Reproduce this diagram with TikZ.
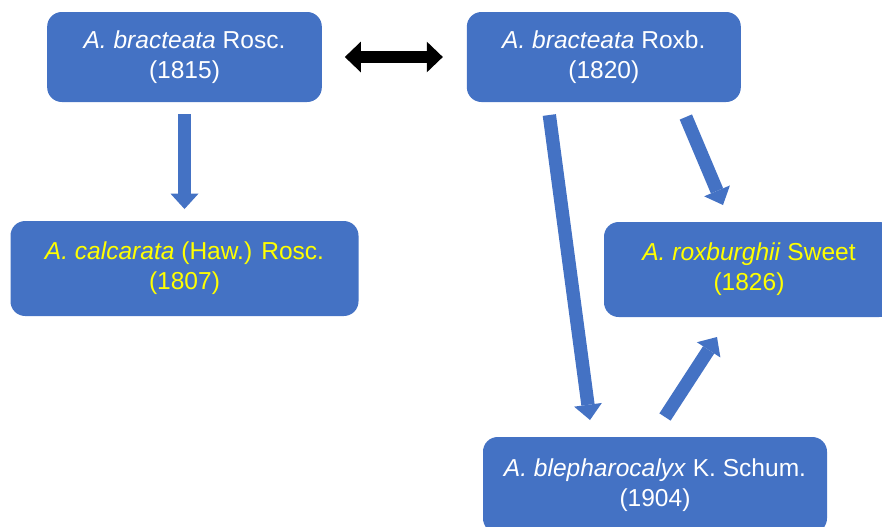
\documentclass[tikz,border=0pt]{standalone}
\usepackage{fontspec}
\setmainfont{Liberation Sans}
\usetikzlibrary{positioning,calc,arrows.meta}
\definecolor{boxblue}{RGB}{68,114,196}
\definecolor{nameyellow}{RGB}{255,255,0}
\tikzset{line/.style={draw=boxblue, line width=10pt, -{Triangle[width=21pt,length=11.5pt,line width=0pt]}}}
\tikzset{twoway/.style={draw=black, line width=8.5pt, {Triangle[width=23pt,length=12pt,line width=0pt]}-{Triangle[width=23pt,length=12pt,line width=0pt]}}}

\begin{document}
\begin{tikzpicture}[x=0.75pt,y=-0.75pt]
\tikzstyle{block} = [rectangle, rounded corners=11pt, fill=boxblue, text=white, align=center, outer sep=0pt, minimum width=206pt, minimum height=67.5pt, font=\fontsize{18.4}{22.5}\selectfont]
\useasboundingbox (0,0) rectangle (882,526);

% blocks
    % bracteata
    \node [block] (Rosc) at (184.5,57) {\textit{A. bracteata} Rosc.\\(1815)};
    \node [block, right=108.75pt of Rosc, minimum width=205.5pt] (Roxb) {\textit{A. bracteata} Roxb.\\(1820)};
    % calcarata
    \node [block, below=89.25pt of Rosc, text=nameyellow, minimum width=261pt, minimum height=71.25pt] (calcarata) {\textit{A. calcarata} (Haw.) Rosc.\\(1807)};
    % roxburghii
    \node [block, text=nameyellow, minimum width=217.5pt, minimum height=71.25pt] (roxburghii) at (749,269.5) {\textit{A. roxburghii} Sweet\\(1826)};
    % blepharocalyx
    \node [block, minimum width=258pt, minimum height=72pt] (blepharo) at (655,485) {\textit{A. blepharocalyx} K. Schum.\\(1904)};
% arrows
    \path [twoway] ($(Rosc.east)+(23,0)$) -- ($(Roxb.west)+(-24,0)$);
    \path [line] ($(Rosc.south)+(0,12)$) -- ($(calcarata.north)+(0,-12)$);
    \path [line] ($(Roxb.south)+(-54.5,13)$) -- ($(blepharo.north)+(-65,-17)$);
    \path [line] ($(Roxb.south)+(82,15)$) -- ($(roxburghii.north)+(-26,-17)$);
    \path [line] ($(blepharo.north)+(10,-20)$) -- ($(roxburghii.south)+(-32,20)$);
\end{tikzpicture}
\end{document}
